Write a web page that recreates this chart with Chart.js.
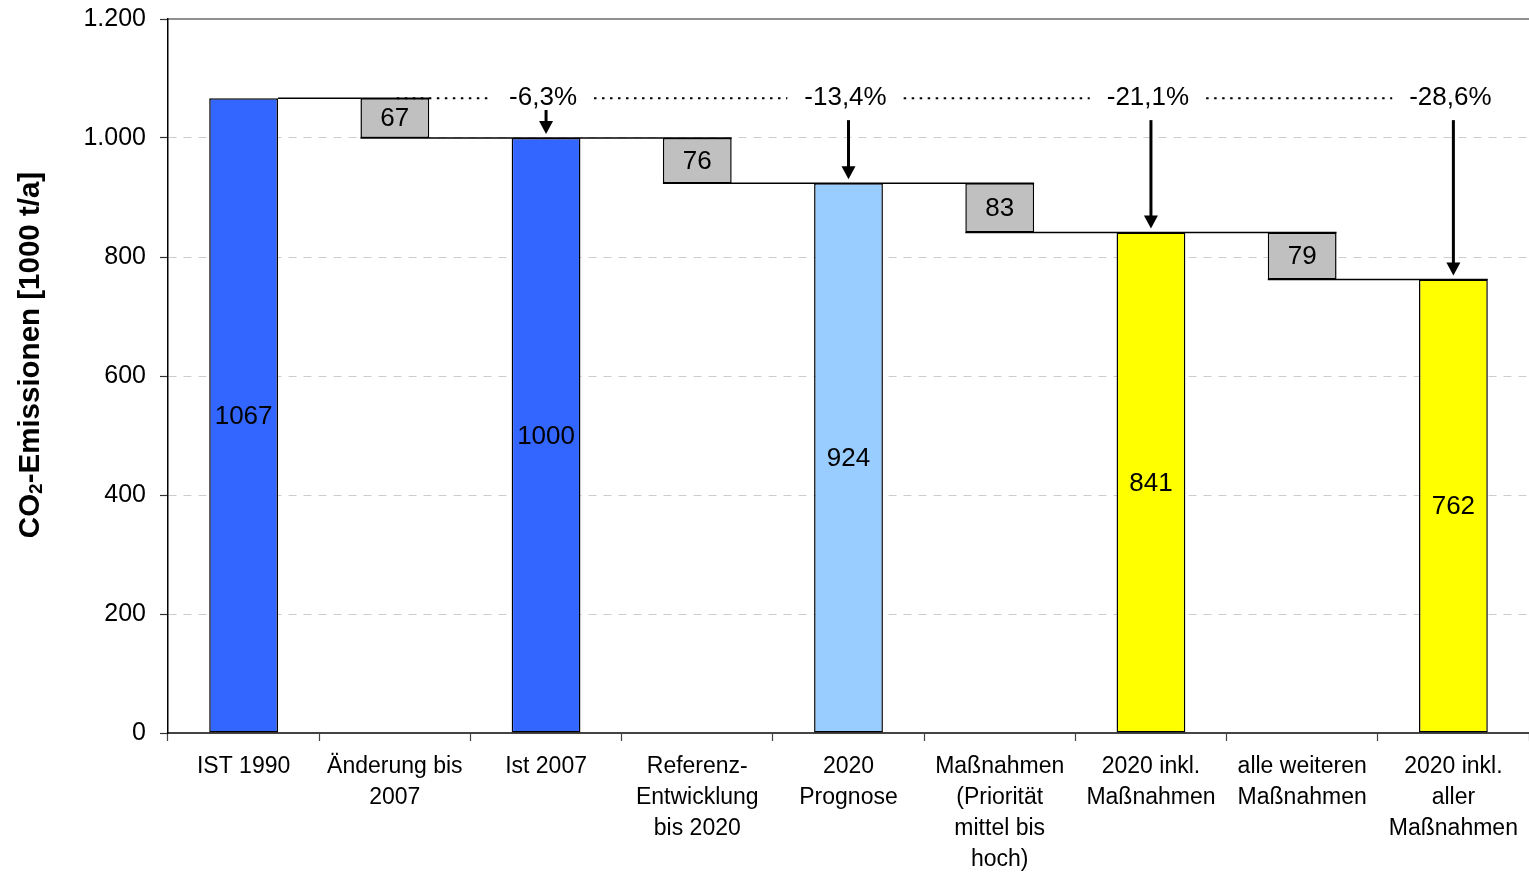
<!DOCTYPE html>
<html>
<head>
<meta charset="utf-8">
<title>CO2-Emissionen</title>
<script src="https://cdn.jsdelivr.net/npm/chart.js"></script>
<style>
  html, body { margin: 0; padding: 0; background: #fff; }
  #wrap { width: 1529px; height: 872px; }
</style>
</head>
<body>
<div id="wrap"><canvas id="chart" width="1529" height="872"></canvas></div>
<script>
const categories = [
  'IST 1990',
  ['Änderung bis', '2007'],
  'Ist 2007',
  ['Referenz-', 'Entwicklung', 'bis 2020'],
  ['2020', 'Prognose'],
  ['Maßnahmen', '(Priorität', 'mittel bis', 'hoch)'],
  ['2020 inkl.', 'Maßnahmen'],
  ['alle weiteren', 'Maßnahmen'],
  ['2020 inkl.', 'aller', 'Maßnahmen']
];
const totals = [1067, null, 1000, null, 924, null, 841, null, 762];
const steps = [null, 67, null, 76, null, 83, null, 79, null];
const shares = [null, null, '-6,3%', null, '-13,4%', null, '-21,1%', null, '-28,6%'];
const yMax = 1200;
const yStep = 200;
const barColors = ['#3366FF', '#C0C0C0', '#3366FF', '#C0C0C0', '#99CCFF', '#C0C0C0', '#FFFF00', '#C0C0C0', '#FFFF00'];

const FONT = "'Liberation Sans', Arial, sans-serif";

// totals stand on 0, step boxes float between the neighbouring totals
const ranges = categories.map((c, i) =>
  totals[i] != null ? [0, totals[i]] : [totals[i - 1] - steps[i], totals[i - 1]]
);

const deFormat = (v) => String(v).replace(/\B(?=(\d{3})+(?!\d))/g, '.');

const decor = {
  id: 'decor',
  afterDatasetsDraw(chart) {
    const { ctx, chartArea, scales: { x, y } } = chart;
    const bars = chart.getDatasetMeta(0).data;
    const left = (i) => bars[i].x - bars[i].width / 2;
    const right = (i) => bars[i].x + bars[i].width / 2;
    ctx.save();

    // top border of the plot
    ctx.strokeStyle = '#222';
    ctx.lineWidth = 1.2;
    ctx.beginPath();
    ctx.moveTo(chartArea.left, chartArea.top);
    ctx.lineTo(chartArea.right, chartArea.top);
    ctx.stroke();

    // connector lines of the waterfall
    ctx.strokeStyle = '#000';
    ctx.lineWidth = 1.5;
    totals.forEach((t, i) => {
      if (t == null) return;
      const py = y.getPixelForValue(t);
      const x1 = i > 0 ? left(i - 1) : right(i);
      const x2 = i < totals.length - 1 ? right(i + 1) : right(i);
      ctx.beginPath();
      ctx.moveTo(x1, py);
      ctx.lineTo(x2, py);
      ctx.stroke();
    });

    // value labels
    ctx.fillStyle = '#000';
    ctx.font = '26px ' + FONT;
    ctx.textAlign = 'center';
    ctx.textBaseline = 'middle';
    ranges.forEach((r, i) => {
      const v = totals[i] != null ? totals[i] : steps[i];
      const py = (y.getPixelForValue(r[0]) + y.getPixelForValue(r[1])) / 2;
      ctx.fillText(String(v), bars[i].x, py + 1);
    });

    // percentage labels, dotted line and arrows
    const lvl = y.getPixelForValue(totals[0]);
    const gaps = [];
    shares.forEach((s, i) => {
      if (!s) return;
      const cx = bars[i].x;
      const w = ctx.measureText(s).width;
      gaps.push([cx - w / 2 - 17, cx + w / 2 + 17]);
      ctx.fillText(s, cx - 3, lvl);
      const top = y.getPixelForValue(totals[i]);
      const tip = top - 4;
      const start = Math.min(lvl + 22, top - 28);
      ctx.lineWidth = 3;
      ctx.beginPath();
      ctx.moveTo(cx, start);
      ctx.lineTo(cx, tip - 10);
      ctx.stroke();
      ctx.beginPath();
      ctx.moveTo(cx - 7, tip - 13);
      ctx.lineTo(cx + 7, tip - 13);
      ctx.lineTo(cx, tip);
      ctx.closePath();
      ctx.fill();
    });
    ctx.lineWidth = 2;
    ctx.setLineDash([2.5, 5.5]);
    let from = bars[1].x + 2;
    const end = (bars[7].x + bars[8].x) / 2;
    gaps.forEach((g) => {
      ctx.beginPath();
      ctx.moveTo(from, lvl);
      ctx.lineTo(g[0] - 3, lvl);
      ctx.stroke();
      from = g[1] - 3;
    });
    if (from < end) {
      ctx.beginPath();
      ctx.moveTo(from, lvl);
      ctx.lineTo(end, lvl);
      ctx.stroke();
    }
    ctx.setLineDash([]);

    // y axis title with a real subscript 2
    ctx.translate(31, 355);
    ctx.rotate(-Math.PI / 2);
    ctx.textAlign = 'left';
    const big = 'bold 29.5px ' + FONT;
    const small = 'bold 19px ' + FONT;
    const parts = [['CO', big, 0], ['2', small, 6], ['-Emissionen [1000 t/a]', big, 0]];
    let total = 0;
    parts.forEach((p) => { ctx.font = p[1]; total += ctx.measureText(p[0]).width; });
    let px = -total / 2;
    parts.forEach((p) => {
      ctx.font = p[1];
      ctx.fillText(p[0], px, p[2]);
      px += ctx.measureText(p[0]).width;
    });
    ctx.restore();
  }
};

new Chart(document.getElementById('chart'), {
  type: 'bar',
  data: {
    labels: categories,
    datasets: [{
      data: ranges,
      backgroundColor: barColors,
      borderColor: '#000',
      borderWidth: 1.5,
      borderSkipped: false,
      barPercentage: 0.455,
      categoryPercentage: 1
    }]
  },
  options: {
    responsive: false,
    animation: false,
    layout: { padding: { top: 19, right: 0, left: 0, bottom: 0 } },
    plugins: { legend: { display: false }, tooltip: { enabled: false } },
    scales: {
      x: {
        afterFit: (s) => { s.height = 139; },
        grid: {
          drawOnChartArea: false,
          drawTicks: true,
          tickLength: 8,
          tickColor: '#444',
          tickWidth: 1.2
        },
        border: { display: true, color: '#444', width: 2 },
        ticks: {
          color: '#000',
          padding: 10,
          maxRotation: 0,
          autoSkip: false,
          font: { family: FONT, size: 23, lineHeight: 1.35 }
        }
      },
      y: {
        min: 0,
        max: yMax,
        afterFit: (s) => { s.width = 168; s.paddingTop = 0; s.paddingBottom = 0; },
        grid: {
          color: (c) => (c.tick && (c.tick.value === 0 || c.tick.value === yMax)) ? 'rgba(0,0,0,0)' : '#cccccc',
          lineWidth: 1,
          drawTicks: true,
          tickLength: 8,
          tickColor: '#333',
          tickWidth: 1.2,
          tickBorderDash: []
        },
        border: { display: true, color: '#000', width: 1.5, dash: [8, 7] },
        ticks: {
          stepSize: yStep,
          color: '#000',
          padding: 14,
          font: { family: FONT, size: 25 },
          callback: (v) => deFormat(v)
        }
      }
    }
  },
  plugins: [decor]
});
</script>
</body>
</html>
